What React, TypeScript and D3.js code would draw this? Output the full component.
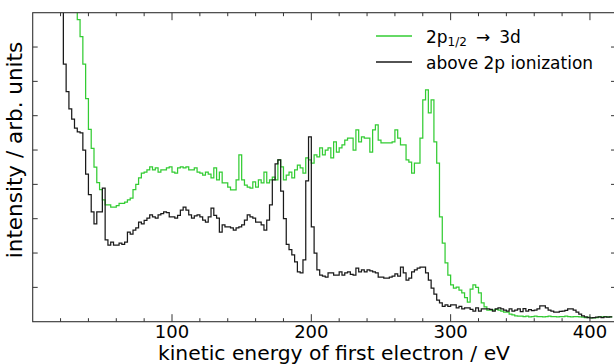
import React from 'react';
import * as d3 from 'd3';

// histogram binning of the first-electron energy (eV)
const BIN_START = 20;
const BIN_WIDTH = 2;

// 2p1/2 -> 3d resonance (green), one value per 2 eV bin starting at 20 eV
const resonant = [
  11, 11, 11, 11, 11, 11, 8.8, 8.3, 7.5, 6.5,
  5.6, 5.05, 4.5, 4.05, 3.85, 3.55, 3.4, 3.4, 3.34, 3.34,
  3.38, 3.45, 3.45, 3.48, 3.55, 3.6, 3.85, 4.0, 4.19, 4.33,
  4.36, 4.42, 4.51, 4.42, 4.48, 4.36, 4.42, 4.42, 4.48, 4.51,
  4.36, 4.33, 4.48, 4.51, 4.48, 4.51, 4.42, 4.42, 4.48, 4.36,
  4.33, 4.27, 4.36, 4.3, 4.19, 4.48, 4.13, 4.36, 4.04, 4.04,
  3.92, 3.84, 3.84, 4.13, 4.86, 4.13, 3.98, 3.92, 3.89, 4.07,
  3.92, 4.13, 4.04, 4.36, 4.04, 4.13, 4.21, 4.13, 4.71, 4.51,
  4.13, 4.27, 4.36, 4.19, 4.42, 4.56, 4.48, 4.33, 4.77, 4.71,
  4.62, 4.86, 4.8, 5.06, 4.86, 5.0, 5.06, 4.77, 5.24, 4.94,
  5.06, 5.15, 5.29, 5.35, 5.35, 5.0, 5.59, 5.24, 5.38, 5.35,
  5.35, 4.94, 5.59, 5.73, 5.29, 5.21, 5.21, 5.21, 5.21, 5.24,
  5.59, 5.35, 5.15, 5.15, 4.71, 4.65, 4.33, 4.62, 4.62, 5.35,
  6.46, 6.75, 6.08, 6.46, 5.24, 4.62, 3.05, 2.29, 1.71, 1.36,
  1.07, 0.98, 1.01, 0.92, 0.84, 0.7, 0.57, 0.95, 1.07, 1.0,
  0.84, 0.55, 0.43, 0.34, 0.34, 0.34, 0.36, 0.34, 0.31, 0.28,
  0.28, 0.22, 0.2, 0.17, 0.16, 0.16, 0.15, 0.16, 0.14, 0.15,
  0.16, 0.15, 0.15, 0.14, 0.15, 0.16, 0.15, 0.15, 0.14, 0.15,
  0.15, 0.16, 0.15, 0.14, 0.15, 0.15, 0.14, 0.13, 0.12, 0.13,
  0.11, 0.11, 0.12, 0.14, 0.14, 0.15, 0.14, 0.14,
];

// above 2p ionization (black)
const direct = [
  11, 7.5, 6.7, 6.2, 5.9, 5.64, 5.53, 5.5, 5.0, 4.3,
  3.7, 3.2, 2.85, 3.2, 3.2, 3.89, 2.38, 2.23, 2.32, 2.23,
  2.23, 2.29, 2.25, 2.32, 2.61, 2.55, 2.67, 2.73, 2.9, 2.85,
  2.95, 3.02, 3.11, 3.05, 3.02, 3.11, 3.15, 3.2, 3.18, 3.05,
  3.05, 3.02, 3.1, 3.25, 3.34, 3.25, 3.11, 3.02, 3.08, 3.11,
  3.05, 2.96, 2.9, 3.05, 3.31, 3.1, 3.02, 2.61, 2.82, 2.76,
  2.76, 2.73, 2.67, 2.73, 2.76, 2.82, 2.96, 3.11, 3.05, 3.02,
  2.9, 2.9, 2.82, 2.67, 2.96, 3.4, 4.13, 4.6, 4.71, 3.8,
  3.0, 2.25, 2.1, 1.95, 1.74, 1.45, 1.42, 1.8, 4.1, 5.38,
  2.76, 2.0, 1.51, 1.36, 1.33, 1.3, 1.42, 1.42, 1.36, 1.36,
  1.45, 1.36, 1.42, 1.45, 1.38, 1.36, 1.56, 1.45, 1.51, 1.45,
  1.51, 1.48, 1.45, 1.42, 1.3, 1.3, 1.27, 1.27, 1.3, 1.33,
  1.39, 1.33, 1.59, 1.42, 1.21, 1.27, 1.45, 1.51, 1.56, 1.59,
  1.59, 1.42, 1.21, 0.98, 0.8, 0.63, 0.55, 0.45, 0.49, 0.45,
  0.49, 0.49, 0.4, 0.45, 0.37, 0.4, 0.4, 0.36, 0.31, 0.4,
  0.31, 0.37, 0.37, 0.37, 0.36, 0.31, 0.37, 0.4, 0.37, 0.34,
  0.31, 0.37, 0.31, 0.34, 0.37, 0.29, 0.38, 0.31, 0.35, 0.32,
  0.34, 0.37, 0.46, 0.46, 0.4, 0.34, 0.31, 0.28, 0.28, 0.3,
  0.31, 0.33, 0.37, 0.37, 0.34, 0.28, 0.22, 0.17, 0.14, 0.12,
  0.11, 0.12, 0.13, 0.14, 0.12, 0.14, 0.13, 0.14,
];

const xMajorTicks = [100, 200, 300, 400];
const xMinorTicks = [20, 40, 60, 80, 120, 140, 160, 180, 220, 240, 260, 280, 320, 340, 360, 380];
const yTicks = [1, 2, 3, 4, 5, 6, 7, 8];

const WIDTH = 614;
const HEIGHT = 364;
const plot = { left: 32.7, top: 12.7, right: 616, bottom: 321.7 };

const GREEN = '#33cc33';
const BLACK = '#1a1a1a';
const AXIS = '#333';
const FONT = '"DejaVu Sans", sans-serif';

export default function App() {
  const xScale = d3.scaleLinear().domain([0, 418.7]).range([plot.left, plot.right]);
  const yScale = d3.scaleLinear().domain([0, 9]).range([plot.bottom, plot.top]);

  const stepLine = (values: number[]) => {
    const pts = values.concat([values[values.length - 1]]);
    return d3.line<number>()
      .x((_, i) => xScale(BIN_START + i * BIN_WIDTH))
      .y(d => yScale(d))
      .curve(d3.curveStepAfter)(pts) || '';
  };

  const majorLen = 7.5;
  const minorLen = 3.5;
  const yLen = 5;

  return (
    <svg
      width={WIDTH}
      height={HEIGHT}
      style={{ position: 'absolute', left: 0, top: 0, background: '#fff' }}
      fontFamily={FONT}
    >
      <defs>
        <clipPath id="plot-area">
          <rect x={plot.left} y={plot.top} width={plot.right - plot.left} height={plot.bottom - plot.top} />
        </clipPath>
      </defs>

      {/* data */}
      <g clipPath="url(#plot-area)" fill="none" strokeWidth={1.25} strokeLinejoin="miter">
        <path d={stepLine(resonant)} stroke={GREEN} />
        <path d={stepLine(direct)} stroke={BLACK} />
      </g>

      {/* ticks, all pointing inward */}
      <g stroke={AXIS} strokeWidth={1}>
        {xMajorTicks.map(t => (
          <g key={`xM-${t}`}>
            <line x1={xScale(t)} x2={xScale(t)} y1={plot.bottom} y2={plot.bottom - majorLen} />
            <line x1={xScale(t)} x2={xScale(t)} y1={plot.top} y2={plot.top + majorLen} />
          </g>
        ))}
        {xMinorTicks.map(t => (
          <g key={`xm-${t}`}>
            <line x1={xScale(t)} x2={xScale(t)} y1={plot.bottom} y2={plot.bottom - minorLen} />
            <line x1={xScale(t)} x2={xScale(t)} y1={plot.top} y2={plot.top + minorLen} />
          </g>
        ))}
        {yTicks.map(t => (
          <g key={`y-${t}`}>
            <line x1={plot.left} x2={plot.left + yLen} y1={yScale(t)} y2={yScale(t)} />
            <line x1={plot.right} x2={plot.right - yLen} y1={yScale(t)} y2={yScale(t)} />
          </g>
        ))}
      </g>

      {/* frame */}
      <rect
        x={plot.left}
        y={plot.top}
        width={plot.right - plot.left}
        height={plot.bottom - plot.top}
        fill="none"
        stroke={AXIS}
        strokeWidth={1.1}
      />

      {/* tick labels */}
      {xMajorTicks.map(t => (
        <text key={`xl-${t}`} x={xScale(t)} y={338} textAnchor="middle" fontSize={18} fill="#000">
          {t}
        </text>
      ))}

      {/* axis labels */}
      <text x={(160 + 508) / 2} y={360} textAnchor="middle" fontSize={20.3} fill="#000">
        kinetic energy of first electron / eV
      </text>
      <text
        transform="rotate(-90)"
        x={-150}
        y={22}
        textAnchor="middle"
        fontSize={21.5}
        fill="#000"
      >
        intensity / arb. units
      </text>

      {/* legend */}
      <g fontSize={17} fill="#000">
        <line x1={376} x2={412} y1={36} y2={36} stroke={GREEN} strokeWidth={1.5} />
        <text x={426} y={42.5}>
          2p
          <tspan fontSize={12} dy={3.5}>1/2</tspan>
          <tspan dy={-3.5} dx={9}>→</tspan>
          <tspan dx={9}>3d</tspan>
        </text>
        <line x1={376} x2={412} y1={62} y2={62} stroke={BLACK} strokeWidth={1.5} />
        <text x={426} y={68.5}>above 2p ionization</text>
      </g>
    </svg>
  );
}
